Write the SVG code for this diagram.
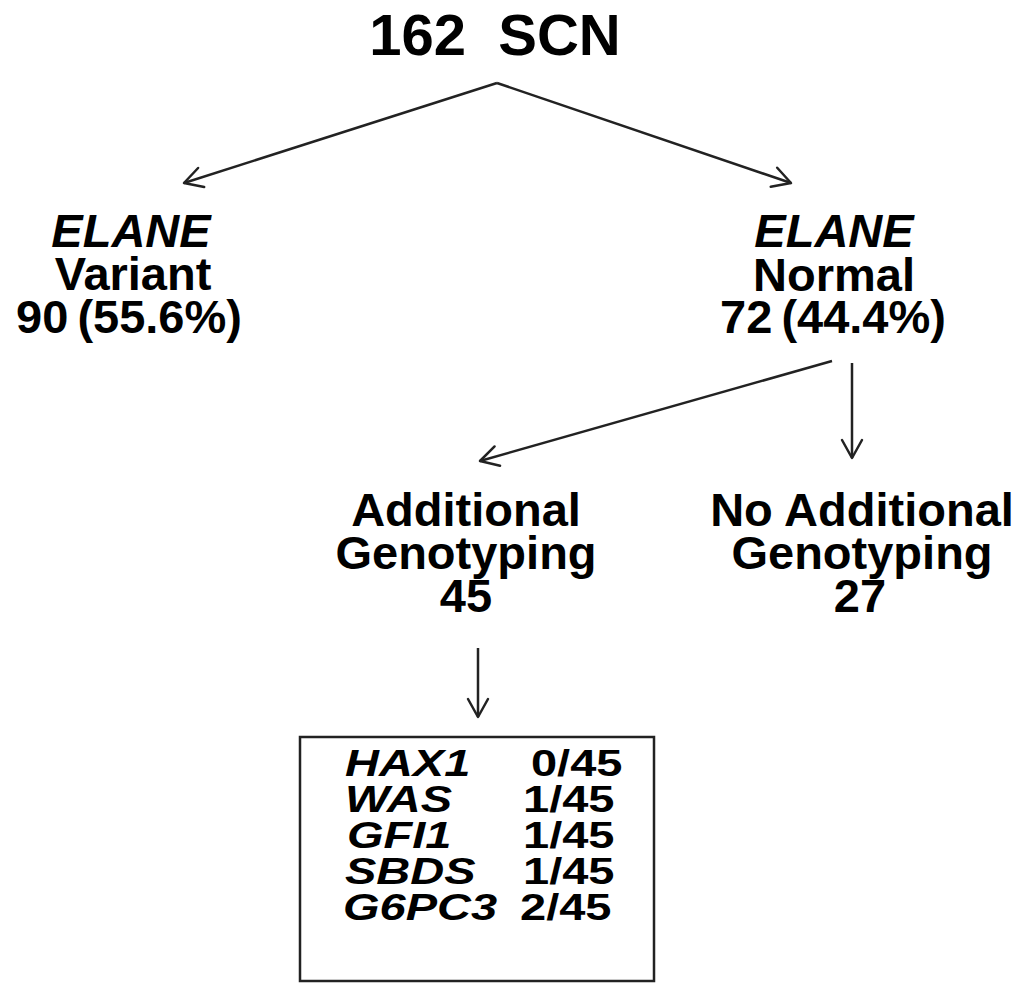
<svg xmlns="http://www.w3.org/2000/svg" width="1021" height="984" viewBox="0 0 1021 984">
  <style>
    text { font-family: "Liberation Sans", Arial, sans-serif; font-weight: bold; fill: #000; }
    .t58 { font-size: 58px; }
    .t47 { font-size: 47px; }
    .it { font-style: italic; }
    .mid { text-anchor: middle; }
    .edge { stroke: #222; stroke-width: 2.5; fill: none; marker-end: url(#open); }
  </style>
  <defs>
    <marker id="open" markerUnits="userSpaceOnUse" markerWidth="26" markerHeight="26" refX="21" refY="12" orient="auto">
      <path d="M3,2 L21,12 L3,22" fill="none" stroke="#222" stroke-width="2.5" stroke-linecap="round" stroke-linejoin="round"/>
    </marker>
  </defs>
  <rect width="1021" height="984" fill="#fff"/>

  <g id="connectors">
    <line class="edge" x1="497" y1="83" x2="184" y2="183"/>
    <line class="edge" x1="497" y1="83" x2="791" y2="183"/>
    <line class="edge" x1="832" y1="361" x2="480" y2="461"/>
    <line class="edge" x1="852" y1="363" x2="852" y2="458"/>
    <line class="edge" x1="478" y1="648" x2="478" y2="717"/>
  </g>

  <g id="root">
    <text class="t58 mid" x="495" y="55" xml:space="preserve">162  SCN</text>
  </g>

  <g id="elane-variant">
    <text class="t47 it mid" x="131" y="247">ELANE</text>
    <text class="t47 mid" x="133" y="290">Variant</text>
    <text class="t47 mid" x="129" y="333" word-spacing="-4">90 (55.6%)</text>
  </g>

  <g id="elane-normal">
    <text class="t47 it mid" x="834" y="247">ELANE</text>
    <text class="t47 mid" x="834" y="291">Normal</text>
    <text class="t47 mid" x="833" y="333" word-spacing="-4">72 (44.4%)</text>
  </g>

  <g id="additional">
    <text class="t47 mid" x="466" y="526">Additional</text>
    <text class="t47 mid" x="466" y="569">Genotyping</text>
    <text class="t47 mid" x="466" y="612">45</text>
  </g>

  <g id="no-additional">
    <text class="t47 mid" x="862" y="526">No Additional</text>
    <text class="t47 mid" x="862" y="569">Genotyping</text>
    <text class="t47 mid" x="860" y="612">27</text>
  </g>

  <g id="results">
    <rect x="300" y="737" width="354" height="244" fill="#fff" stroke="#222" stroke-width="2.5"/>
    <g transform="translate(0,776) scale(1,0.8)">
      <text class="t47 it" x="345" y="0">HAX1</text>
      <text class="t47" x="531" y="0">0/45</text>
    </g>
    <g transform="translate(0,812) scale(1,0.8)">
      <text class="t47 it" x="345" y="0">WAS</text>
      <text class="t47" x="523" y="0">1/45</text>
    </g>
    <g transform="translate(0,848) scale(1,0.8)">
      <text class="t47 it" x="347" y="0">GFI1</text>
      <text class="t47" x="523" y="0">1/45</text>
    </g>
    <g transform="translate(0,884) scale(1,0.8)">
      <text class="t47 it" x="345" y="0">SBDS</text>
      <text class="t47" x="523" y="0">1/45</text>
    </g>
    <g transform="translate(0,920) scale(1,0.8)">
      <text class="t47 it" x="343" y="0">G6PC3</text>
      <text class="t47" x="520" y="0">2/45</text>
    </g>
  </g>
</svg>
